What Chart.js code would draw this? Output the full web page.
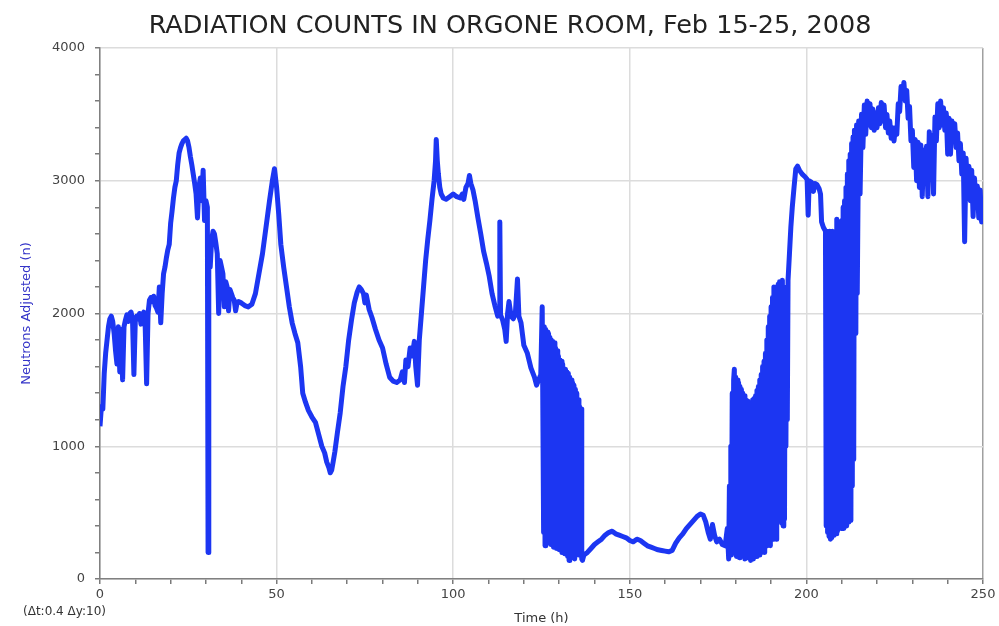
<!DOCTYPE html>
<html>
<head>
<meta charset="utf-8">
<title>Radiation counts</title>
<script src="https://cdn.jsdelivr.net/npm/chart.js@4.4.1/dist/chart.umd.min.js"></script>
<style>
  html, body { margin: 0; padding: 0; background: #fff; }
</style>
</head>
<body>
<canvas id="radChart" width="999" height="626"></canvas>
<script>
// values, hours since start of logging
const riseHours = [
  0, 0.4, 0.8, 1.2, 1.6, 2.0, 2.4, 2.8, 3.2, 3.6,
  4.0, 4.4, 4.8, 5.2, 5.6, 6.0, 6.4, 6.8, 7.2, 7.6,
  8.0, 8.4, 8.8, 9.2, 9.6, 10.0, 10.4, 10.8, 11.2, 11.6,
  12.0, 12.4, 12.8, 13.2, 13.6, 14.0, 14.4, 14.8, 15.2, 15.6,
  16.0, 16.4, 16.8, 17.2, 17.6, 18.0, 18.4, 18.8, 19.2, 19.6,
  20.0, 20.4, 20.8, 21.2, 21.6, 22.0, 22.4, 22.8, 23.2, 23.6,
  24.0, 24.4, 24.8, 25.2, 25.6, 26.0, 26.4, 26.8, 27.2, 27.6,
  28.0, 28.4, 28.8, 29.2, 29.6, 30.0, 30.4, 30.6, 30.8
];
const riseCounts = [
  1150, 1300, 1280, 1550, 1700, 1800, 1900, 1960, 1980, 1940,
  1850, 1720, 1620, 1900, 1560, 1880, 1500, 1900, 1950, 1990,
  1940, 2000, 2010, 1960, 1540, 1950, 1980, 1960, 2000, 1920,
  1990, 2010, 1900, 1470, 2000, 2100, 2120, 2090, 2130, 2060,
  2040, 2010, 2200, 1930, 2150, 2300, 2350, 2420, 2480, 2520,
  2680, 2770, 2870, 2950, 3000, 3120, 3210, 3250, 3280, 3300,
  3310, 3320, 3300, 3250, 3180, 3120, 3050, 2980, 2900, 2720,
  2950, 3020, 2850, 3080, 2700, 2850, 2800, 200, 2450
];

const valleyHours = [
  31.2, 31.6, 32.0, 32.4, 32.8, 33.2, 33.6, 34.0, 34.4, 34.8,
  35.2, 35.6, 36.0, 36.4, 36.8, 37.2, 37.6, 38.0, 38.4, 38.8,
  39.2, 40.0, 41.0, 42.0, 43.0, 44.0, 45.0, 46.0, 47.0, 48.0,
  48.8, 49.4, 50.0, 50.6, 51.2, 52.0, 52.8, 53.6, 54.4, 55.2,
  56.0, 56.8, 57.4, 58.2, 59.0, 60.0, 61.0, 62.0, 62.8, 63.6,
  64.2, 64.8, 65.2, 65.6, 66.0, 66.5, 67.2, 68.0, 68.8, 69.6,
  70.4, 71.2, 72.0, 72.8, 73.4, 74.0, 74.6, 75.0, 75.4, 76.2,
  77.0, 78.0, 79.0, 80.0, 81.0, 82.0, 83.0, 84.0, 85.0, 85.6,
  86.2, 86.6, 87.2, 87.8, 88.4, 89.0, 89.4, 89.9, 90.4, 91.0,
  91.6, 92.2, 92.8, 93.4, 94.0, 94.6, 95.0, 95.2, 95.5, 95.8,
  96.2, 96.6, 97.2, 98.0, 99.0, 100.0, 101.0, 102.0, 102.6, 103.0,
  103.6, 104.2, 104.6, 105.0, 105.6, 106.2, 107.0, 107.8, 108.6, 109.4,
  110.2, 111.0, 111.8, 112.6, 113.0, 113.2, 113.4, 114.0, 114.6, 115.0,
  115.4, 115.8, 116.4, 117.0, 117.6, 118.2, 118.6, 119.2, 120.0, 121.0,
  122.0, 123.0, 123.6, 124.2, 124.8, 125.2
];
const valleyCounts = [
  2350, 2550, 2620, 2600, 2530, 2450, 2000, 2400, 2350, 2300,
  2050, 2240, 2200, 2020, 2180, 2150, 2120, 2100, 2020, 2080,
  2090, 2080, 2060, 2050, 2070, 2150, 2300, 2450, 2650, 2850,
  3000, 3090, 2950, 2750, 2520, 2350, 2200, 2050, 1930, 1850,
  1780, 1600, 1400, 1330, 1270, 1220, 1180, 1080, 1000, 950,
  880, 840, 800, 820, 880, 960, 1100, 1250, 1450, 1600,
  1800, 1950, 2080, 2160, 2200, 2180, 2150, 2080, 2140, 2030,
  1970, 1880, 1800, 1740, 1620, 1520, 1490, 1480, 1500, 1560,
  1480, 1650, 1600, 1740, 1680, 1790, 1600, 1460, 1800, 2000,
  2200, 2400, 2560, 2700, 2860, 3000, 3150, 3310, 3150, 3050,
  2950, 2900, 2870, 2860, 2880, 2900, 2880, 2870, 2900, 2860,
  2950, 2980, 3040, 2980, 2930, 2850, 2720, 2600, 2470, 2380,
  2280, 2150, 2060, 1980, 2000, 2690, 1990, 1950, 1880, 1790,
  2000, 2090, 1980, 1960, 2000, 2260, 1980, 1930, 1760, 1700,
  1590, 1520, 1460, 1500, 1540, 2050
];

// first dropout band (readings jumping between high and low)
const dropAHours = [
  125.6, 125.8, 126.0, 126.2, 126.4, 126.6, 126.8, 127.0, 127.2, 127.4,
  127.6, 127.8, 128.0, 128.2, 128.4, 128.6, 128.8, 129.0, 129.2, 129.4,
  129.6, 129.8, 130.0, 130.2, 130.4, 130.6, 130.8, 131.0, 131.2, 131.4,
  131.6, 131.8, 132.0, 132.2, 132.4, 132.6, 132.8, 133.0, 133.2, 133.4,
  133.6, 133.8, 134.0, 134.2, 134.4, 134.6, 134.8, 135.0, 135.2, 135.4,
  135.6, 135.8, 136.0, 136.2, 136.4, 136.6
];
const dropACounts = [
  350, 1900, 250, 1880, 320, 1860, 280, 1850, 400, 1820,
  260, 1800, 300, 1790, 240, 1780, 700, 1740, 230, 1720,
  260, 1680, 220, 1650, 300, 1640, 200, 1620, 250, 1200,
  190, 1580, 250, 1560, 170, 1550, 140, 1520, 200, 1500,
  350, 1480, 160, 1460, 150, 1430, 250, 1400, 560, 1350,
  180, 1300, 200, 1280, 150, 140
];

const lowHours = [
  137, 138, 139, 140, 141, 142, 143, 144, 145, 146,
  147, 148, 149, 150, 151, 152, 153, 154, 155, 156,
  157, 158, 159, 160, 161, 162, 163, 164, 165, 166,
  167, 168, 169, 170, 170.8, 171.5, 172.2, 172.8, 173.4, 174.0,
  174.6, 175.4, 176.2, 177.0, 177.6
];
const lowCounts = [
  180, 200, 230, 260, 280, 300, 330, 350, 360, 340,
  330, 320, 310, 290, 280, 300, 290, 270, 250, 240,
  230, 220, 215, 210, 205, 215, 270, 310, 340, 380,
  410, 440, 470, 490, 480, 430, 350, 300, 410, 330,
  280, 300, 260, 250, 380
];

const dropBHours = [
  178.0, 178.2, 178.4, 178.6, 178.8, 179.0, 179.2, 179.4, 179.6, 179.8,
  180.0, 180.2, 180.4, 180.6, 180.8, 181.0, 181.2, 181.4, 181.6, 181.8,
  182.0, 182.2, 182.4, 182.6, 182.8, 183.0, 183.2, 183.4, 183.6, 183.8,
  184.0, 184.2, 184.4, 184.6, 184.8, 185.0, 185.2, 185.4, 185.6, 185.8,
  186.0, 186.2, 186.4, 186.6, 186.8, 187.0, 187.2, 187.4, 187.6, 187.8,
  188.0, 188.2, 188.4, 188.6, 188.8, 189.0, 189.2, 189.4, 189.6, 189.8,
  190.0, 190.2, 190.4, 190.6, 190.8, 191.0, 191.2, 191.4, 191.6, 191.8,
  192.0, 192.2, 192.4, 192.6, 192.8, 193.0, 193.2, 193.4, 193.6, 193.8,
  194.0, 194.2, 194.4, 194.6, 194.8
];
const dropBCounts = [
  150, 700, 200, 1000, 180, 1400, 250, 1500, 1580, 200,
  1520, 170, 1500, 300, 1480, 160, 1450, 220, 1430, 180,
  1400, 300, 1380, 150, 1350, 200, 1340, 160, 1310, 220,
  1320, 140, 1330, 180, 1350, 150, 1360, 400, 1380, 170,
  1420, 200, 1450, 180, 1500, 350, 1540, 200, 1600, 250,
  1640, 200, 1700, 600, 1800, 250, 1900, 300, 1980, 250,
  2050, 400, 2120, 300, 2200, 350, 2190, 300, 2180, 1100,
  2220, 450, 2240, 500, 2230, 420, 2250, 400, 2200, 450,
  2150, 1000, 2200, 1200, 2250
];

const shoulderHours = [
  195.2, 195.6, 196.0, 196.5, 197.0, 197.5, 198.0, 198.8, 199.6, 200.2,
  200.5, 200.8, 201.4, 202.0, 202.4, 203.0, 203.6, 204.0, 204.3, 204.8,
  205.4
];
const shoulderCounts = [
  2450, 2650, 2800, 2950, 3090, 3110, 3080, 3050, 3030, 3010,
  2740, 3000, 2990, 2920, 2980, 2970, 2940, 2900, 2690, 2650,
  2620
];

const dropCHours = [
  205.6, 205.8, 206.0, 206.2, 206.4, 206.6, 206.8, 207.0, 207.2, 207.4,
  207.6, 207.8, 208.0, 208.2, 208.4, 208.6, 208.8, 209.0, 209.2, 209.4,
  209.6, 209.8, 210.0, 210.2, 210.4, 210.6, 210.8, 211.0, 211.2, 211.4,
  211.6, 211.8, 212.0, 212.2, 212.4, 212.6, 212.8, 213.0, 213.2, 213.4,
  213.6
];
const dropCCounts = [
  400, 2620, 350, 2610, 320, 2620, 300, 2600, 310, 2620,
  330, 2610, 350, 2600, 340, 2710, 360, 2600, 2500, 2200,
  2000, 380, 2700, 400, 2800, 380, 2850, 420, 2950, 400,
  3050, 430, 3150, 450, 3200, 440, 3280, 700, 3330, 900,
  3380
];

// last stretch: noisy band, upper and lower readings alternate
const plateauHours = [
  214.0, 214.2, 214.4, 214.8, 215.2, 215.6, 216.0, 216.4, 216.8, 217.2,
  217.6, 218.0, 218.4, 218.8, 219.2, 219.6, 220.0, 220.4, 220.8, 221.2,
  221.6, 222.0, 222.4, 222.8, 223.2, 223.6, 224.0, 224.4, 224.8, 225.2,
  225.6, 226.0, 226.4, 226.8, 227.2, 227.6, 228.0, 228.4, 228.8, 229.2,
  229.6, 230.0, 230.4, 230.8, 231.2, 231.6, 232.0, 232.4, 232.8, 233.2,
  233.6, 234.0, 234.4, 234.8, 235.2, 235.6, 236.0, 236.4, 236.8, 237.2,
  237.6, 238.0, 238.4, 238.8, 239.2, 239.6, 240.0, 240.4, 240.8, 241.2,
  241.6, 242.0, 242.4, 242.8, 243.2, 243.6, 244.0, 244.4, 244.8, 245.2,
  245.6, 246.0, 246.4, 246.8, 247.2, 247.6, 248.0, 248.4, 248.8, 249.2,
  249.6, 250.0
];
const plateauCounts = [
  1850, 3420, 2150, 3450, 2900, 3500, 3250, 3570, 3350, 3600,
  3420, 3580, 3400, 3540, 3380, 3510, 3400, 3550, 3430, 3590,
  3450, 3570, 3400, 3500, 3360, 3450, 3320, 3400, 3300, 3400,
  3350, 3580, 3520, 3710, 3620, 3740, 3600, 3680, 3470, 3560,
  3300, 3380, 3100, 3310, 3000, 3290, 2950, 3270, 2880, 3230,
  3000, 3260, 2880, 3370, 3100, 3340, 2900, 3480, 3300, 3580,
  3400, 3600, 3420, 3550, 3380, 3510, 3200, 3470, 3200, 3450,
  3310, 3430, 3250, 3360, 3150, 3280, 3050, 3210, 2540, 3170,
  2950, 3110, 2850, 3080, 2730, 3020, 2800, 2960, 2720, 2930,
  2690, 2800
];

const xTickLabels = [0, 50, 100, 150, 200, 250];
const yTickLabels = [0, 1000, 2000, 3000, 4000];

const hours = [].concat(riseHours, valleyHours, dropAHours, lowHours,
  dropBHours, shoulderHours, dropCHours, plateauHours);
const counts = [].concat(riseCounts, valleyCounts, dropACounts, lowCounts,
  dropBCounts, shoulderCounts, dropCCounts, plateauCounts);

if (hours.length !== counts.length) {
  console.warn('hours/counts length mismatch', hours.length, counts.length);
}

const points = hours.map((h, i) => ({ x: h, y: counts[i] }));

const GRID = '#dcdcdc';
const TICK = '#7a7a7a';
const tickFont = { family: "'DejaVu Sans', sans-serif", size: 13 };

// title + the little resolution note under the axis
const extraText = {
  id: 'extraText',
  afterDraw(chart) {
    const ctx = chart.ctx;
    ctx.save();
    ctx.fillStyle = '#222';
    ctx.font = "25.5px 'DejaVu Sans', sans-serif";
    ctx.textAlign = 'center';
    ctx.textBaseline = 'middle';
    ctx.fillText('RADIATION COUNTS IN ORGONE ROOM, Feb 15-25, 2008', 510, 26);

    ctx.fillStyle = '#333';
    ctx.font = "12px 'DejaVu Sans', sans-serif";
    ctx.textAlign = 'left';
    ctx.fillText('(\u0394t:0.4 \u0394y:10)', 23, 612);
    ctx.restore();
  }
};

new Chart(document.getElementById('radChart'), {
  type: 'line',
  data: {
    datasets: [{
      label: 'Neutrons Adjusted (n)',
      data: points,
      borderColor: '#1c36f2',
      borderWidth: 5,
      borderJoinStyle: 'round',
      pointRadius: 0,
      fill: false,
      tension: 0
    }]
  },
  options: {
    responsive: false,
    animation: false,
    layout: { padding: { top: 48, right: 16, left: 0, bottom: 0 } },
    plugins: {
      legend: { display: false },
      tooltip: { enabled: false }
    },
    scales: {
      x: {
        type: 'linear',
        min: 0,
        max: 250,
        afterFit: s => { s.height = 47; },
        border: { color: '#808080', width: 1.5 },
        grid: {
          lineWidth: 1.5,
          tickLength: 5,
          tickColor: TICK,
          color: c => {
            if (!c.tick) return 'transparent';
            if (c.tick.value === 250) return '#a0a0a0';
            return xTickLabels.includes(c.tick.value) ? GRID : 'transparent';
          }
        },
        ticks: {
          stepSize: 10,
          autoSkip: false,
          maxRotation: 0,
          padding: 3,
          color: '#444',
          font: tickFont,
          callback: v => xTickLabels.includes(v) ? String(v) : ''
        },
        title: {
          display: true,
          text: 'Time (h)',
          color: '#333',
          font: tickFont,
          padding: { top: 0, bottom: 0 }
        }
      },
      y: {
        min: 0,
        max: 4000,
        afterFit: s => { s.width = 100; },
        border: { color: '#808080', width: 1.5 },
        grid: {
          lineWidth: 1.5,
          tickLength: 5,
          tickColor: TICK,
          color: c => (c.tick && yTickLabels.includes(c.tick.value)) ? GRID : 'transparent'
        },
        ticks: {
          stepSize: 200,
          autoSkip: false,
          padding: 10,
          color: '#444',
          font: tickFont,
          callback: v => yTickLabels.includes(v) ? String(v) : ''
        },
        title: {
          display: true,
          text: 'Neutrons Adjusted (n)',
          color: '#3535c8',
          font: tickFont,
          padding: { top: 19, bottom: 0 }
        }
      }
    }
  },
  plugins: [extraText]
});
</script>
</body>
</html>
